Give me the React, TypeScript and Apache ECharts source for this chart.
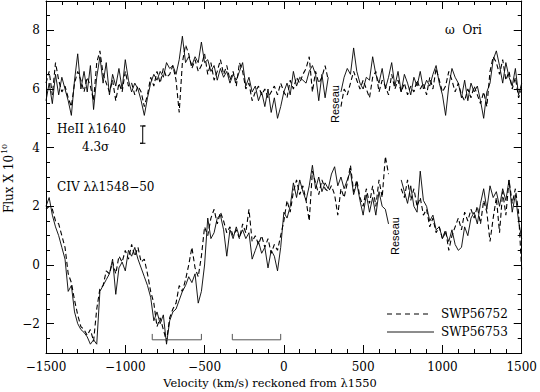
import React, { useEffect, useRef } from "react";
import * as echarts from "echarts";

// Velocity grid (km/s), sampled every 20 km/s from -1500 to 1500
const VEL_START = -1500;
const VEL_STEP = 20;

// HeII λ1640 region (upper spectrum), SWP56752 (dashed)
const heDashed: (number | null)[] = [
  6.2, 6.6, 5.8, 6.9, 6.3, 5.9, 6.1, 5.7, 5.4, 6.2, 6.6, 6.3, 5.9, 6.4, 6.1, 5.6, 6.9, 7.3, 6.5, 6.2,
  5.9, 6.3, 5.6, 6.2, 5.9, 6.6, 6.1, 6.2, 5.8, 6.1, 5.9, 5.4, 5.8, 6.4, 6.1, 6.6, 6.2, 6.7, 6.4, 6.5,
  6.8, 6.3, 5.2, 6.9, 7.5, 7.2, 6.7, 7.0, 6.6, 6.8, 7.2, 6.5, 6.9, 6.3, 6.6, 7.0, 6.5, 6.8, 6.3, 6.6,
  6.1, 6.9, 6.6, 6.0, 6.2, 5.6, 5.9, 6.1, 5.8, 6.0, 5.7, 5.9, 6.1, 5.8, 6.2, 5.9, 5.7, 6.3, 6.0, 6.4,
  6.2, 6.5, 6.7, 7.1, 5.9, 6.6, 6.2, 6.4, 6.8, 6.3, null, null, null, 5.4, 6.0, 5.8, 6.2, 6.6, 6.3, 6.0,
  6.3, 6.0, 5.7, 6.4, 6.6, 5.9, 6.3, 6.1, 5.8, 6.5, 6.0, 6.3, 5.9, 6.2, 5.8, 6.1, 5.9, 6.3, 6.0, 6.2,
  5.8, 6.4, 6.0, 6.7, 6.3, 5.9, 6.1, 6.6, 6.3, 5.9, 6.2, 5.8, 5.6, 6.0, 5.7, 6.1, 5.8, 5.5, 5.9, 5.4,
  6.6, 7.1, 6.9, 6.5, 7.0, 6.3, 6.6, 6.0, 6.4, 5.7, 6.0,
];

// HeII λ1640 region (upper spectrum), SWP56753 (solid)
const heSolid: (number | null)[] = [
  5.6, 6.2, 5.5, 6.5, 5.8, 6.4, 6.0, 5.6, 5.1, 6.3, 7.2, 6.0, 6.6, 5.9, 6.8, 5.3, 6.4, 7.1, 6.2, 6.9,
  5.8, 6.5, 6.1, 6.7, 6.0, 7.0, 6.3, 5.9, 6.2, 6.0, 5.6, 5.1, 5.7, 6.2, 6.5, 6.3, 6.6, 6.4, 6.9, 6.7,
  6.8, 6.5, 7.0, 7.8, 6.9, 7.1, 6.8, 7.1, 6.9, 7.6, 6.9, 7.0, 6.6, 6.8, 6.3, 6.7, 6.4, 6.6, 6.2, 6.5,
  6.3, 6.6, 6.9, 6.1, 6.4, 5.9, 6.1, 5.6, 5.9, 5.4, 6.0, 5.2, 5.7, 5.0, 5.4, 5.9, 6.2, 5.8, 6.6, 6.1,
  6.4, 6.3, 6.2, 6.6, 6.8, 6.5, 5.6, 6.5, 5.7, 6.4, null, null, null, 5.9, 6.4, 6.7, 6.5, 7.4, 6.6, 6.2,
  6.0, 6.4, 6.3, 7.1, 6.5, 6.2, 6.7, 6.0, 6.4, 6.9, 6.1, 6.6, 5.9, 6.5, 6.2, 5.8, 6.4, 6.1, 6.6, 6.0,
  6.3, 6.1, 6.5, 6.8, 6.2, 5.8, 5.1, 6.1, 6.7, 6.4, 6.2, 5.7, 6.3, 5.6, 6.2, 5.9, 6.1, 5.6, 5.0, 5.9,
  6.2, 7.0, 7.3, 6.8, 6.2, 6.9, 6.4, 6.1, 6.7, 5.8, 6.2,
];

// CIV λλ1548-50 region (lower spectrum), SWP56752 (dashed)
const civDashed: (number | null)[] = [
  1.9, 2.0, 1.9, 1.5, 1.4, 1.0, 0.6, -0.3, -0.6, -1.2, -1.7, -2.1, -2.2, -2.4, -2.2, -2.6, -1.5, -0.8, -0.7, -0.2,
  -0.3, 0.1, -0.3, 0.3, 0.1, 0.5, 0.2, 0.7, 0.3, 0.6, 0.1, 0.2, -0.3, -0.9, -1.3, -2.1, -1.8, -2.2, -2.6, -1.8,
  -1.5, -1.3, -0.7, -0.9, -0.5, 0.0, 0.6, -0.1, -0.4, 0.3, 1.3, 1.0, 1.6, 1.9, 1.4, 1.8, 1.5, 1.1, 1.3, 1.0,
  1.2, 0.9, 1.4, 1.1, 1.9, 0.8, 1.0, 0.7, 1.0, 0.6, 0.9, 0.4, 0.7, 0.5, 1.0, 1.5, 2.2, 1.8, 2.5, 2.9,
  2.4, 2.7, 2.2, 1.5, 3.2, 2.8, 2.4, 2.9, 2.6, 2.5, 2.7, 2.4, 1.7, 2.6, 2.3, 2.8, 3.4, 2.5, 2.9, 2.3,
  2.0, 2.6, 2.1, 2.7, 2.0, 2.9, 2.3, 3.7, 3.1, null, null, null, 2.6, 2.3, 2.9, 2.2, 2.6, 2.0, 2.3, 1.7,
  1.9, 1.3, 1.6, 1.1, 1.3, 0.9, 1.2, 0.5, 1.0, 1.3, 1.6, 1.2, 1.8, 1.5, 1.9, 1.6, 2.0, 1.4, 2.2, 1.8,
  0.8, 1.6, 2.3, 1.1, 2.5, 1.7, 2.9, 2.1, 2.6, 1.8, -0.2,
];

// CIV λλ1548-50 region (lower spectrum), SWP56753 (solid)
const civSolid: (number | null)[] = [
  2.0, 2.3, 1.7, 1.3, 1.0, 0.6, 0.2, -0.9, -0.7, -1.6, -2.0, -2.2, -2.3, -2.45, -2.7, -2.55, -2.7, -0.9, -0.7, -0.5,
  -0.3, 0.2, -1.0, -0.1, 0.1, -0.2, 0.5, 0.3, 0.6, 0.2, -0.1, -0.4, -0.7, -1.1, -1.9, -1.6, -2.0, -1.7, -2.7, -1.9,
  -1.6, -1.5, -1.2, -0.9, -0.7, -0.4, -0.6, -0.3, -1.3, -0.9, 0.0, 1.6, 0.9, 1.1, 1.6, 1.7, 1.2, 0.3, 1.2, 0.9,
  1.3, 0.95, 1.2, 0.9, 1.1, 0.2, 0.5, 0.8, 0.4, 0.6, -0.1, 0.5, 0.3, -0.2, 0.6, 1.8, 1.6, 2.0, 2.8, 2.3,
  2.9, 2.5, 2.2, 2.7, 3.4, 2.6, 3.0, 2.5, 2.8, 2.6, 3.1, 3.35, 2.7, 3.0, 2.6, 2.9, 3.2, 2.4, 2.8, 2.2,
  1.7, 2.4, 1.8, 2.3, 1.7, 2.5, 2.0, 1.9, 1.4, null, null, null, 2.9, 2.5, 2.1, 2.7, 2.0, 1.8, 3.2, 2.2,
  2.0, 1.5, 1.7, 1.2, 1.3, 0.9, 1.1, 0.8, 1.2, 0.7, 0.5, 0.6, 1.3, 1.0, 1.6, 1.8, 1.4, 2.1, 2.6, 1.9,
  2.7, 2.3, 2.5, 2.0, 2.6, 2.2, 2.9, 1.8, 2.4, 1.5, 0.9,
];

// Absorption-component brackets: velocity ranges (km/s), level and end height (flux)
const bracketRanges: [number, number][] = [
  [-830, -520],
  [-325, -20],
];
const bracketLevel = -2.55;
const bracketTop = -2.35;

// HeII 4.3σ error bar: velocity, low, high, half cap width (km/s)
const errVel = -890;
const errLow = 4.15;
const errHigh = 4.74;
const errCap = 17;

const xTicks = [-1500, -1000, -500, 0, 500, 1000, 1500];
const yMajor = [-2, 0, 2, 4, 6, 8];
const legendNames = ["SWP56752", "SWP56753"];

const SERIF = "'DejaVu Serif', 'Liberation Serif', serif";
const SANS = "'Liberation Sans', Arial, sans-serif";

const fmt = (v: number) => (v < 0 ? "\u2212" + Math.abs(v) : String(v));

function toPairs(arr: (number | null)[]) {
  return arr.map((y, i) => [VEL_START + VEL_STEP * i, y === null ? "-" : y]);
}

function bracketData() {
  const out: any[] = [];
  bracketRanges.forEach(([a, b], i) => {
    if (i > 0) out.push(["-", "-"]);
    out.push([a, bracketTop], [a, bracketLevel], [b, bracketLevel], [b, bracketTop]);
  });
  return out;
}

export default function App() {
  const ref = useRef<HTMLDivElement>(null);
  useEffect(() => {
    if (!ref.current) return;
    const chart = echarts.init(ref.current, null, { renderer: "svg" });
    const axisLine = { show: true, onZero: false, lineStyle: { color: "#000", width: 1 } };
    const xAxisBase = {
      type: "value",
      min: xTicks[0],
      max: xTicks[xTicks.length - 1],
      interval: 500,
      axisLine,
      axisTick: { show: true, inside: true, length: 8, lineStyle: { color: "#000" } },
      minorTick: { show: true, splitNumber: 5, length: 4, lineStyle: { color: "#000" } },
      splitLine: { show: false },
      minorSplitLine: { show: false },
    };
    const yMinor = {
      type: "value",
      min: -3,
      max: 9,
      interval: 0.5,
      axisLine,
      axisTick: { show: true, inside: true, length: 4, lineStyle: { color: "#000" } },
      splitLine: { show: false },
    };
    const yMajorAxis = {
      type: "value",
      min: -3,
      max: 9,
      interval: 0.5,
      axisLine: { show: false, onZero: false },
      axisTick: {
        show: true,
        inside: true,
        length: 8,
        customValues: yMajor,
        lineStyle: { color: "#000" },
      },
      axisLabel: { show: false },
      splitLine: { show: false },
    };
    const dashed = { color: "#000", width: 1.1, type: [5, 3] };
    const solid = { color: "#000", width: 0.9, type: "solid" };
    const legendY = [314, 332];
    const option: any = {
      animation: false,
      grid: { left: 46, right: 16, top: 1, bottom: 39 },
      xAxis: [
        {
          ...xAxisBase,
          position: "bottom",
          axisLabel: {
            color: "#000",
            fontFamily: SERIF,
            fontSize: 12,
            margin: 8,
            formatter: (v: number) => fmt(v),
          },
        },
        { ...xAxisBase, position: "top", axisLabel: { show: false } },
      ],
      yAxis: [
        {
          ...yMinor,
          position: "left",
          axisLabel: {
            color: "#000",
            fontFamily: SERIF,
            fontSize: 12,
            margin: 6,
            formatter: (v: number) => (yMajor.indexOf(v) >= 0 ? fmt(v) : ""),
          },
        },
        { ...yMajorAxis, position: "left" },
        { ...yMinor, position: "right", axisLabel: { show: false } },
        { ...yMajorAxis, position: "right" },
      ],
      series: [
        {
          name: legendNames[0],
          type: "line",
          data: toPairs(heDashed),
          symbol: "none",
          lineStyle: dashed,
        },
        {
          name: legendNames[0],
          type: "line",
          data: toPairs(civDashed),
          symbol: "none",
          lineStyle: dashed,
        },
        {
          name: legendNames[1],
          type: "line",
          data: toPairs(heSolid),
          symbol: "none",
          lineStyle: solid,
        },
        {
          name: legendNames[1],
          type: "line",
          data: toPairs(civSolid),
          symbol: "none",
          lineStyle: solid,
        },
        {
          name: "brackets",
          type: "line",
          data: bracketData(),
          symbol: "none",
          silent: true,
          lineStyle: { color: "#555", width: 1 },
        },
        {
          name: "errorbar",
          type: "line",
          data: [
            [errVel - errCap, errHigh],
            [errVel + errCap, errHigh],
            [errVel, errHigh],
            [errVel, errLow],
            [errVel - errCap, errLow],
            [errVel + errCap, errLow],
          ],
          symbol: "none",
          silent: true,
          lineStyle: { color: "#000", width: 1 },
        },
      ],
      graphic: [
        // legend
        {
          type: "line",
          shape: { x1: 387, y1: legendY[0], x2: 431, y2: legendY[0] },
          style: { stroke: "#000", lineWidth: 1.1, lineDash: [5, 4] },
        },
        {
          type: "line",
          shape: { x1: 387, y1: legendY[1], x2: 434, y2: legendY[1] },
          style: { stroke: "#000", lineWidth: 0.9 },
        },
        {
          type: "text",
          x: 441,
          y: legendY[0],
          style: {
            text: legendNames[0],
            fontFamily: SERIF,
            fontSize: 12,
            fill: "#000",
            align: "left",
            verticalAlign: "middle",
          },
        },
        {
          type: "text",
          x: 441,
          y: legendY[1],
          style: {
            text: legendNames[1],
            fontFamily: SERIF,
            fontSize: 12,
            fill: "#000",
            align: "left",
            verticalAlign: "middle",
          },
        },
        {
          type: "text",
          x: 9,
          y: 184,
          rotation: Math.PI / 2,
          style: {
            text: "Flux X 10",
            fontFamily: SERIF,
            fontSize: 12,
            fill: "#000",
            align: "center",
            verticalAlign: "middle",
          },
        },
        {
          type: "text",
          x: 4,
          y: 149,
          rotation: Math.PI / 2,
          style: {
            text: "10",
            fontFamily: SERIF,
            fontSize: 8,
            fill: "#000",
            align: "center",
            verticalAlign: "middle",
          },
        },
        {
          type: "text",
          x: 270,
          y: 383,
          style: {
            text: "Velocity (km/s) reckoned from \u03bb1550",
            fontFamily: SERIF,
            fontSize: 11.4,
            fill: "#000",
            align: "center",
            verticalAlign: "middle",
          },
        },
        {
          type: "text",
          x: 445,
          y: 30,
          style: {
            text: "\u03c9  Ori",
            fontFamily: SERIF,
            fontSize: 12,
            fill: "#000",
            align: "left",
            verticalAlign: "middle",
          },
        },
        {
          type: "text",
          x: 57,
          y: 129,
          style: {
            text: "HeII \u03bb1640",
            fontFamily: SERIF,
            fontSize: 12,
            fill: "#000",
            align: "left",
            verticalAlign: "middle",
          },
        },
        {
          type: "text",
          x: 82,
          y: 147,
          style: {
            text: "4.3\u03c3",
            fontFamily: SERIF,
            fontSize: 12,
            fill: "#000",
            align: "left",
            verticalAlign: "middle",
          },
        },
        {
          type: "text",
          x: 57,
          y: 187,
          style: {
            text: "CIV \u03bb\u03bb1548\u221250",
            fontFamily: SERIF,
            fontSize: 12,
            fill: "#000",
            align: "left",
            verticalAlign: "middle",
          },
        },
        {
          type: "text",
          x: 335,
          y: 104,
          rotation: Math.PI / 2,
          style: {
            text: "Reseau",
            fontFamily: SANS,
            fontSize: 11,
            fill: "#000",
            align: "center",
            verticalAlign: "middle",
          },
        },
        {
          type: "text",
          x: 395,
          y: 236,
          rotation: Math.PI / 2,
          style: {
            text: "Reseau",
            fontFamily: SANS,
            fontSize: 11,
            fill: "#000",
            align: "center",
            verticalAlign: "middle",
          },
        },
      ],
    };
    chart.setOption(option);
    return () => chart.dispose();
  }, []);
  return (
    <div
      ref={ref}
      style={{ position: "fixed", left: 0, top: 0, width: 540, height: 392, background: "#fff" }}
    />
  );
}
